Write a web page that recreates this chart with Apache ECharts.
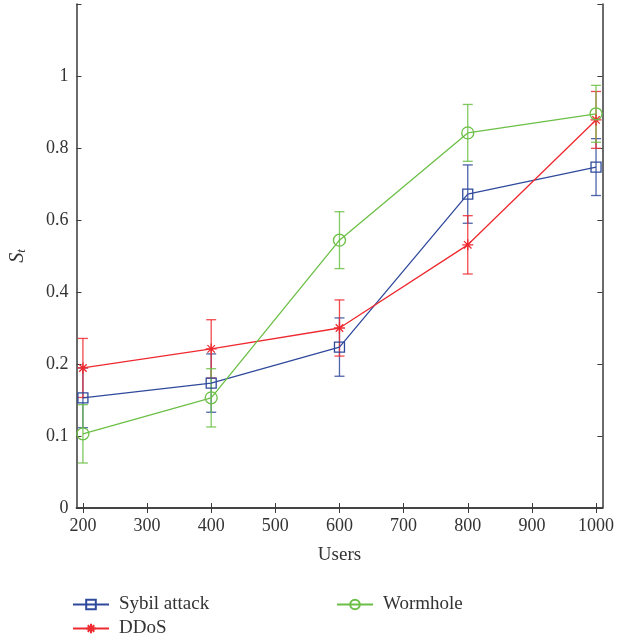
<!DOCTYPE html>
<html><head><meta charset="utf-8">
<script src="https://cdn.jsdelivr.net/npm/echarts@6/dist/echarts.min.js"></script>
<style>html,body{margin:0;padding:0;background:#fff}#c{width:617px;height:644px}</style>
</head><body><div id="c"></div><script>
// Data (y values are in plotted axis units: ticks every 0.2, labelled with the reference's tick texts)
const users = [200, 400, 600, 800, 1000];
const xTicks = [200, 300, 400, 500, 600, 700, 800, 900, 1000];
const yTickLabels = ['0', '0.1', '0.2', '0.4', '0.6', '0.8', '1', ''];
const sybil = [0.306, 0.347, 0.447, 0.872, 0.947];
const sybilErr = [0.083, 0.081, 0.081, 0.081, 0.079];
const ddos = [0.389, 0.442, 0.500, 0.731, 1.078];
const ddosErr = [0.082, 0.081, 0.078, 0.081, 0.079];
const worm = [0.206, 0.306, 0.744, 1.042, 1.095];
const wormErr = [0.081, 0.081, 0.079, 0.079, 0.079];

const FONT = '"Liberation Serif", "DejaVu Serif", serif';
const BLUE = '#2F4A9C', RED = '#EE2A30', GREEN = '#6CBF46';
const AX = '#3a3a3a';
const STAR = 'path://M5,0L5,10M0,5L10,5M1.6,1.6L8.4,8.4M1.6,8.4L8.4,1.6';

function errSeries(name, vals, errs, color) {
  return {
    type: 'custom', name: name + ' error', z: 3,
    encode: { x: 0, y: [1, 2] },
    itemStyle: { color: color },
    data: users.map((u, i) => [u, vals[i] - errs[i], vals[i] + errs[i]]),
    renderItem: function (params, api) {
      const x = api.value(0);
      const p1 = api.coord([x, api.value(1)]);
      const p2 = api.coord([x, api.value(2)]);
      const w = 5;
      const st = { stroke: color, lineWidth: 1.3, opacity: 0.85 };
      return { type: 'group', children: [
        { type: 'line', shape: { x1: p1[0], y1: p1[1], x2: p2[0], y2: p2[1] }, style: st },
        { type: 'line', shape: { x1: p1[0] - w, y1: p1[1], x2: p1[0] + w, y2: p1[1] }, style: st },
        { type: 'line', shape: { x1: p2[0] - w, y1: p2[1], x2: p2[0] + w, y2: p2[1] }, style: st }
      ]};
    }
  };
}
function lineSeries(name, vals, color, symbol, size, fill) {
  return {
    type: 'line', name: name, z: 4,
    data: users.map((u, i) => [u, vals[i]]),
    symbol: symbol, symbolSize: size, showSymbol: true,
    lineStyle: { color: color, width: 1.3 },
    itemStyle: { color: fill, borderColor: color, borderWidth: 1.3 },
    emphasis: { disabled: true }
  };
}

const chart = echarts.init(document.getElementById('c'));
chart.setOption({
  animation: false,
  backgroundColor: '#fff',
  grid: { left: 74, right: 14, top: 4, bottom: 136, containLabel: false },
  xAxis: [
    { type: 'value', min: 190, max: 1010, position: 'bottom',
      name: 'Users', nameLocation: 'middle', nameGap: 38,
      nameTextStyle: { fontFamily: FONT, fontSize: 19, color: '#333' },
      axisLine: { show: true, lineStyle: { color: AX, width: 1.5 } },
      axisTick: { show: true, inside: true, length: 5, customValues: xTicks, lineStyle: { color: AX } },
      axisLabel: { customValues: xTicks, fontFamily: FONT, fontSize: 18, color: '#333', margin: 9,
        formatter: v => String(v) },
      splitLine: { show: false } },
    { type: 'value', min: 190, max: 1010, position: 'top',
      axisLine: { show: true, lineStyle: { color: AX, width: 1.5 } },
      axisTick: { show: true, inside: true, length: 5, customValues: xTicks, lineStyle: { color: AX } },
      axisLabel: { show: false }, splitLine: { show: false } }
  ],
  yAxis: [
    { type: 'value', min: 0, max: 1.4, interval: 0.2, position: 'left',
      name: '{s|S}{t|t}', nameLocation: 'middle', nameGap: 48, nameRotate: 90,
      nameTextStyle: { fontFamily: FONT, color: '#333', rich: {
        s: { fontFamily: FONT, fontStyle: 'italic', fontSize: 20, color: '#333' },
        t: { fontFamily: FONT, fontStyle: 'italic', fontSize: 13, color: '#333', padding: [8, 0, 0, 0] } } },
      axisLine: { show: true, lineStyle: { color: AX, width: 1.5 } },
      axisTick: { show: true, inside: true, length: 5, lineStyle: { color: AX } },
      axisLabel: { fontFamily: FONT, fontSize: 18, color: '#333', margin: 8,
        formatter: v => yTickLabels[Math.round(v / 0.2)] },
      splitLine: { show: false } },
    { type: 'value', min: 0, max: 1.4, interval: 0.2, position: 'right',
      axisLine: { show: true, lineStyle: { color: AX, width: 1.5 } },
      axisTick: { show: true, inside: true, length: 5, lineStyle: { color: AX } },
      axisLabel: { show: false }, splitLine: { show: false } }
  ],
  legend: [
    { data: ['Sybil attack', 'DDoS'], orient: 'vertical', left: 72, top: 595, padding: 0,
      itemWidth: 36, itemHeight: 12, itemGap: 5, selectedMode: false,
      textStyle: { fontFamily: FONT, fontSize: 19, color: '#333', padding: [0, 0, 0, 5] } },
    { data: ['Wormhole'], orient: 'vertical', left: 336, top: 595, padding: 0,
      itemWidth: 36, itemHeight: 12, itemGap: 5, selectedMode: false,
      textStyle: { fontFamily: FONT, fontSize: 19, color: '#333', padding: [0, 0, 0, 5] } }
  ],
  series: [
    errSeries('Sybil attack', sybil, sybilErr, BLUE),
    lineSeries('Sybil attack', sybil, BLUE, 'rect', 10, 'rgba(255,255,255,0)'),
    errSeries('DDoS', ddos, ddosErr, RED),
    lineSeries('DDoS', ddos, RED, STAR, 11, 'rgba(255,255,255,0)'),
    errSeries('Wormhole', worm, wormErr, GREEN),
    lineSeries('Wormhole', worm, GREEN, 'circle', 12, 'rgba(255,255,255,0)')
  ]
});
</script></body></html>
